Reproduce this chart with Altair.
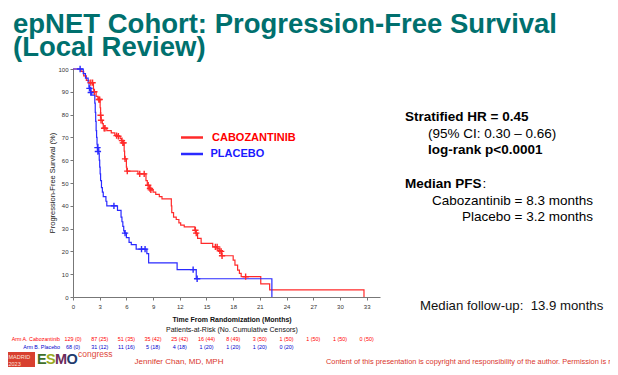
import altair as alt
import pandas as pd

# ---------------- data ----------------
cabo_t = [0, 0.9, 1.2, 1.5, 1.8, 2.3, 2.35, 2.6, 2.8, 3.05, 3.1, 3.15, 3.3, 3.4, 3.8, 4.3, 4.7, 5.0, 5.3,
          5.45, 5.55, 5.75, 5.8, 6.0, 6.05, 7.3, 8.2, 8.35, 8.6, 8.7, 9.0, 9.3, 9.7, 10.0, 11.05, 11.1, 11.3,
          11.6, 11.9, 12.1, 12.5, 13.7, 13.8, 14.0, 14.4, 15.7, 16.2, 16.4, 16.7, 18.0, 18.2, 18.5, 18.7,
          18.9, 21.1, 22.1, 32.7]
cabo_s = [100, 99, 97, 95, 94, 91, 90, 88, 86.6, 83, 79.7, 77.5, 76, 74, 73, 72, 71, 70.5, 69.5,
          68.6, 67.6, 64, 60.6, 57, 55.2, 54, 51, 49, 47.6, 47, 46, 45, 44, 43, 40, 37, 35,
          34, 32.5, 31.5, 30.8, 29.3, 28, 25.7, 23.5, 22, 21.3, 20.3, 18.1, 16.2, 14, 11.8, 10.4,
          8.9, 5.8, 3.1, 0]
cabo_cens_t = [2.0, 2.2, 2.4, 2.9, 3.0, 3.1, 3.15, 3.5, 3.6, 4.9, 5.1, 5.5, 5.6, 5.7, 5.85, 6.1, 7.5, 8.0,
               8.45, 8.65, 8.75, 13.75, 13.85, 16.0, 16.2, 16.5, 16.65, 16.75, 19.4]
cabo_cens_s = [94, 94, 90, 86.6, 86.6, 79.7, 77.5, 74, 74, 70.8, 70.5, 68.6, 67.6, 67.6, 60.6, 55.2, 54, 54,
               49, 47.6, 47, 29.3, 28, 22, 22, 20.3, 20, 18.1, 8.9]

plac_t = [0, 1.15, 1.4, 1.7, 1.8, 2.0, 2.1, 2.45, 2.5, 2.55, 2.6, 2.65, 2.7, 2.8, 2.9, 2.95, 3.0, 3.05,
          3.1, 3.2, 3.3, 3.4, 3.7, 3.8, 5.0, 5.4, 5.5, 5.6, 5.7, 5.8, 6.0, 6.3, 6.55, 7.1, 8.3, 8.5,
          11.7, 13.85, 22.35]
plac_s = [100, 98, 96, 94, 92, 90, 88.5, 85, 81, 77, 73, 70, 67, 65, 63, 60, 57, 54,
          51, 48, 46, 44, 42, 40, 38, 35, 33, 31, 29, 28, 26, 24, 23, 21, 19, 15,
          12, 8, 0]
plac_cens_t = [0.8, 1.85, 2.0, 2.75, 2.8, 4.6, 5.85, 7.7, 8.1, 13.5, 13.95]
plac_cens_s = [100, 91.5, 89.7, 65.5, 63.8, 40, 28, 21, 21, 12, 8]

risk_times = [0, 3, 6, 9, 12, 15, 18, 21, 24, 27, 30, 33]
risk_cabo = ["129 (0)", "87 (25)", "51 (35)", "35 (42)", "25 (42)", "16 (44)", "8 (49)", "3 (50)",
             "1 (50)", "1 (50)", "1 (50)", "0 (50)"]
risk_plac = ["68 (0)", "31 (12)", "11 (16)", "5 (18)", "4 (18)", "1 (20)", "1 (20)", "1 (20)", "0 (20)"]

x_ticks = [0, 3, 6, 9, 12, 15, 18, 21, 24, 27, 30, 33]
y_ticks = [0, 10, 20, 30, 40, 50, 60, 70, 80, 90, 100]

# ---------------- styles ----------------
FONT = "Liberation Sans"
RED = "#ff2a2a"
BLUE = "#2a2aff"
TEAL = "#00706e"
W, H = 307, 228

xscale = alt.Scale(domain=[0, 34.5], nice=False, zero=False)
yscale = alt.Scale(domain=[0, 100], nice=False)
xaxis = alt.Axis(values=x_ticks, title=None, grid=False, labelFontSize=6, labelFont=FONT,
                 labelColor="#333", domainColor="#777", tickColor="#777", tickSize=3,
                 labelPadding=3, labelFlush=False)
yaxis = alt.Axis(values=y_ticks, title=None, grid=False, labelFontSize=6, labelFont=FONT,
                 labelColor="#333", domainColor="#777", tickColor="#777", tickSize=3,
                 labelPadding=2)

curve_df = pd.concat([
    pd.DataFrame({"t": cabo_t, "s": cabo_s, "arm": "Cabozantinib"}),
    pd.DataFrame({"t": plac_t, "s": plac_s, "arm": "Placebo"}),
])
cens_df = pd.concat([
    pd.DataFrame({"t": cabo_cens_t, "s": cabo_cens_s, "arm": "Cabozantinib"}),
    pd.DataFrame({"t": plac_cens_t, "s": plac_cens_s, "arm": "Placebo"}),
])
color = alt.Color("arm:N", scale=alt.Scale(domain=["Cabozantinib", "Placebo"], range=[RED, BLUE]),
                  legend=None)

curves = alt.Chart(curve_df).mark_line(interpolate="step-after", strokeWidth=1.2).encode(
    x=alt.X("t:Q", scale=xscale, axis=xaxis),
    y=alt.Y("s:Q", scale=yscale, axis=yaxis),
    color=color, detail="arm:N")

cens = alt.Chart(cens_df).mark_point(shape="M-1,0L1,0M0,-1L0,1", size=40, strokeWidth=1.4,
                                     filled=False, opacity=1).encode(
    x=alt.X("t:Q", scale=xscale, axis=xaxis),
    y=alt.Y("s:Q", scale=yscale, axis=yaxis),
    color=color)

risk_a = alt.Chart(pd.DataFrame({"t": risk_times, "lab": risk_cabo})).mark_text(
    fontSize=5.4, font=FONT, color="#ff0000", baseline="middle").encode(
    x=alt.X("t:Q", scale=xscale, axis=xaxis), y=alt.value(270), text="lab:N")
risk_b = alt.Chart(pd.DataFrame({"t": risk_times[:len(risk_plac)], "lab": risk_plac})).mark_text(
    fontSize=5.4, font=FONT, color="#0000cc", baseline="middle").encode(
    x=alt.X("t:Q", scale=xscale, axis=xaxis), y=alt.value(277.5), text="lab:N")


def txt(s, x, y, size, col, weight="normal", align="left", angle=0, font=FONT, baseline="middle"):
    return alt.Chart(pd.DataFrame({"t": [s]})).mark_text(
        align=align, baseline=baseline, fontSize=size, color=col, fontWeight=weight,
        font=font, angle=angle).encode(x=alt.value(x), y=alt.value(y), text="t:N")


def seg(x1, x2, y, col, w):
    return alt.Chart(pd.DataFrame({"a": [0]})).mark_rule(color=col, strokeWidth=w).encode(
        x=alt.value(x1), x2=alt.value(x2), y=alt.value(y))


layers = [curves, cens, risk_a, risk_b,
          # title
          txt("epNET Cohort: Progression-Free Survival", -60, -36.5, 27.5, TEAL, "bold",
              baseline="alphabetic"),
          txt("(Local Review)", -60, -13, 27.5, TEAL, "bold", baseline="alphabetic"),
          # legend
          seg(108, 130, 68.5, RED, 2.5),
          txt("CABOZANTINIB", 139, 68.5, 11, "#ff0000", "bold"),
          seg(108, 130, 85, BLUE, 2.5),
          txt("PLACEBO", 137.5, 85, 11, "#1a1aff", "bold"),
          # axis titles
          txt("Progression-Free Survival (%)", -20, 114, 7.5, "#222", "normal", "center", 270),
          txt("Time From Randomization (Months)", 159, 251, 7, "#111", "bold", "center"),
          txt("Patients-at-Risk (No. Cumulative Censors)", 159, 261, 7, "#111", "normal", "center"),
          txt("Arm A. Cabozantinib", -13, 270, 5.3, "#ff0000", "normal", "right"),
          txt("Arm B. Placebo", -13, 277.5, 5.3, "#0000cc", "normal", "right"),
          # right annotations
          txt("Stratified HR = 0.45", 332, 48, 13.5, "#000", "bold"),
          txt("(95% CI: 0.30 \u2013 0.66)", 355, 65, 13.5, "#000"),
          txt("log-rank p<0.0001", 355, 81, 13.5, "#000", "bold"),
          txt("Median PFS", 332, 115, 13.5, "#000", "bold"),
          txt(":", 409.5, 115, 13.5, "#000"),
          txt("Cabozantinib = 8.3 months", 520, 132, 13.5, "#000", "normal", "right"),
          txt("Placebo = 3.2 months", 520, 148, 13.5, "#000", "normal", "right"),
          txt("Median follow-up:\u00a0\u00a013.9 months", 347, 237, 13.2, "#111"),
          # footer logo
          alt.Chart(pd.DataFrame({"a": [0]})).mark_rect(color="#d8402f").encode(
              x=alt.value(-66), x2=alt.value(-38), y=alt.value(283), y2=alt.value(299)),
          txt("MADRID", -64.5, 287.5, 5.5, "#fbe3dd"),
          txt("2023", -64.5, 294.5, 5.5, "#fbe3dd"),
          txt("E", -36, 291, 14.5, "#3f6f2a", "bold"),
          txt("S", -27, 291, 14.5, "#9aaa1e", "bold"),
          txt("M", -18, 291, 14.5, "#6b2b5a", "bold"),
          txt("O", -6.5, 291, 14.5, "#1f3c6e", "bold"),
          txt("congress", 5, 285, 8.5, "#e0473a"),
          # footer texts
          txt("Jennifer Chan, MD, MPH", 106, 293, 8, "#d9362b", "normal", "center"),
          txt("Content of this presentation is copyright and responsibility of the author. Permission is required for re-use.",
              253, 293, 7.4, "#d9362b"),
          ]

chart = alt.layer(*layers).properties(
    width=W, height=H,
    padding={"left": 65, "top": 61, "right": 230, "bottom": 70},
    autosize=alt.AutoSizeParams(type="none"),
    background="white",
).configure_view(stroke=None)

chart.save("out.html", embed_options={"renderer": "svg", "actions": False})
